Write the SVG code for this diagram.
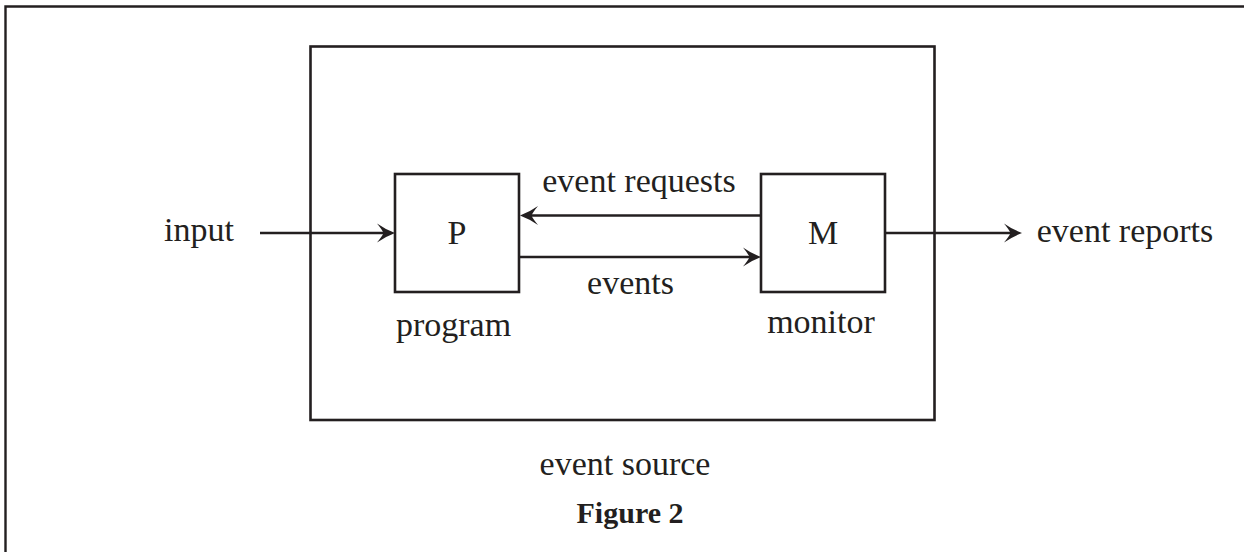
<svg xmlns="http://www.w3.org/2000/svg" xmlns:xlink="http://www.w3.org/1999/xlink" width="1244" height="552" viewBox="0 0 1244 552">
  <style>
    .ln { stroke: #231f20; stroke-width: 2.4; fill: none; }
    .box { stroke: #231f20; stroke-width: 2.6; fill: #ffffff; }
    .lbl { font-family: "Liberation Serif", "Times New Roman", serif; font-size: 34px; fill: #231f20; text-anchor: middle; }
    .cap { font-family: "Liberation Serif", "Times New Roman", serif; font-size: 30px; font-weight: bold; fill: #231f20; text-anchor: middle; }
  </style>
  <defs>
    <!-- barbed arrowhead, tip at the origin, pointing along +x -->
    <path id="ah" d="M0,0 Q-10,-3.8 -18,-9.5 Q-13,-3.5 -11.5,0 Q-13,3.5 -18,9.5 Q-10,3.8 0,0 Z" fill="#231f20"/>
  </defs>

  <rect width="1244" height="552" fill="#ffffff"/>

  <!-- page frame -->
  <path class="ln" d="M5.5,552 V6.5 H1244" stroke-width="2"/>

  <!-- event source enclosure -->
  <g id="event-source">
    <rect class="box" x="310.5" y="46.5" width="624" height="373.5" fill="none"/>
    <text class="lbl" x="625" y="475">event source</text>
  </g>

  <!-- connectors -->
  <g id="connectors">
    <line class="ln" x1="260" y1="233" x2="384" y2="233"/>
    <use xlink:href="#ah" href="#ah" transform="translate(395,233)"/>
    <line class="ln" x1="760" y1="215.5" x2="531" y2="215.5"/>
    <use xlink:href="#ah" href="#ah" transform="translate(520,215.5) rotate(180)"/>
    <line class="ln" x1="519" y1="257" x2="750" y2="257"/>
    <use xlink:href="#ah" href="#ah" transform="translate(761,257)"/>
    <line class="ln" x1="885" y1="233" x2="1011" y2="233"/>
    <use xlink:href="#ah" href="#ah" transform="translate(1022,233)"/>
  </g>

  <g id="program">
    <rect class="box" x="395" y="174" width="124" height="118"/>
    <text class="lbl" x="457" y="244">P</text>
    <text class="lbl" x="453.5" y="336">program</text>
  </g>

  <g id="monitor">
    <rect class="box" x="761" y="174" width="124" height="118"/>
    <text class="lbl" x="823" y="244">M</text>
    <text class="lbl" x="821" y="333">monitor</text>
  </g>

  <g id="labels">
    <text class="lbl" x="199" y="241">input</text>
    <text class="lbl" x="639" y="192">event requests</text>
    <text class="lbl" x="630.5" y="294">events</text>
    <text class="lbl" x="1125" y="242">event reports</text>
    <text class="cap" x="630" y="523">Figure 2</text>
  </g>
</svg>
